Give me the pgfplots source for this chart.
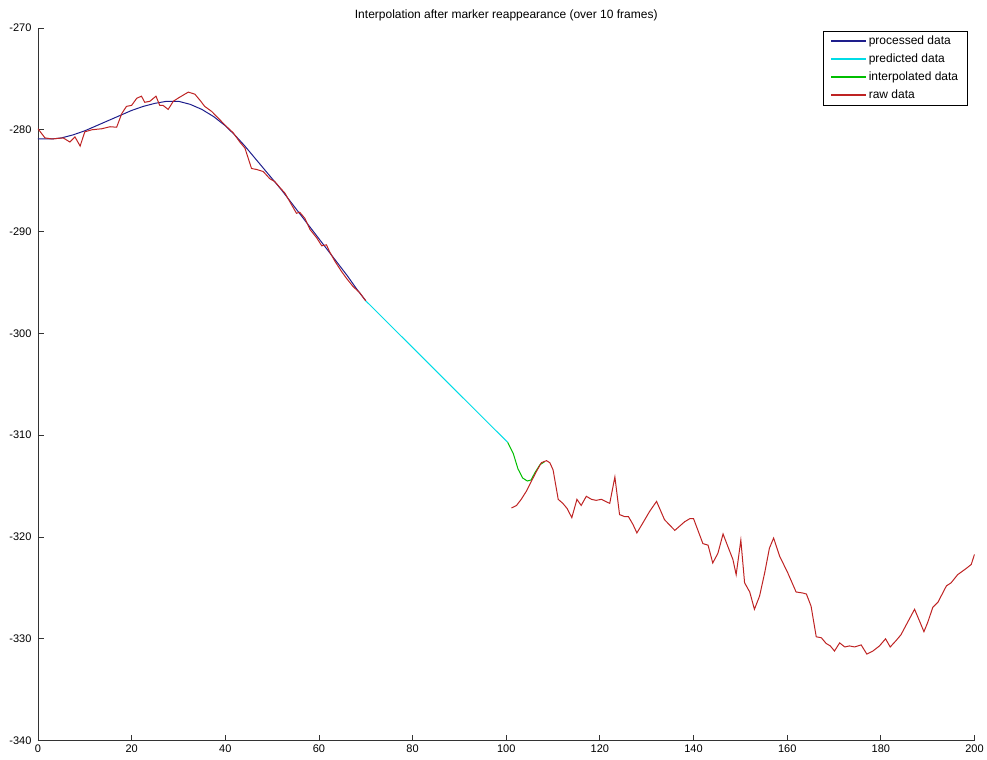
\documentclass[border=0pt]{standalone}
\usepackage{pgfplots}
\pgfplotsset{compat=1.18}
\usepackage{fontspec}
\setmainfont{Liberation Sans}
\definecolor{procblue}{RGB}{30,30,140}
\definecolor{predcyan}{RGB}{0,220,230}
\definecolor{intgreen}{RGB}{0,190,0}
\definecolor{rawred}{RGB}{190,35,35}
\begin{document}
\begin{tikzpicture}
\begin{axis}[
  name=ax,
  scale only axis,
  width=937pt, height=713pt,
  xmin=0, xmax=200, ymin=-340, ymax=-270,
  xtick={0,20,...,200},
  ytick={-340,-330,...,-270},
  axis x line*=bottom, axis y line*=left,
  tick align=inside,
  major tick length=6pt,
  axis line style={line width=0.8pt, black!80},
  tick style={line width=0.8pt, black!80},
  font=\fontsize{11}{13}\selectfont,
  /pgf/number format/assume math mode=true,
  ticklabel style={font=\fontsize{11}{13}\selectfont},
  xticklabel style={yshift=-0.5pt},
  yticklabel style={xshift=-3pt},
  title={Interpolation after marker reappearance (over 10 frames)},
  title style={at={(0.5,1)}, anchor=south, yshift=-3pt, font=\fontsize{12}{14}\selectfont},
  legend style={at={(0.9925,0.996)}, anchor=north east, draw=black, line width=0.6pt,
    font=\fontsize{12}{14}\selectfont, row sep=2.6pt, inner xsep=7pt,
    nodes={inner sep=2pt, text height=9pt, text depth=2.5pt}},
  legend cell align=left,
  legend image code/.code={\draw[#1, line width=1.5pt] (0pt,0pt) -- (35pt,0pt);},
  every axis plot/.append style={line width=1pt},
]
\coordinate (SW) at (rel axis cs:0,0);
\coordinate (NE) at (rel axis cs:1,1);
\addplot[procblue] coordinates {
(0,-280.9) (3,-280.9) (5,-280.8) (7.5,-280.5) (10,-280.1) (12.5,-279.6) (15,-279.1)
(17.5,-278.6) (20,-278.1) (22.5,-277.7) (25,-277.4) (27.5,-277.2) (30,-277.2)
(32.5,-277.5) (35,-278.0) (37.5,-278.7) (40,-279.6) (42,-280.5) (44,-281.5)
(46,-282.6) (48,-283.7) (50,-284.8) (52,-285.9) (54,-287.1) (56,-288.3)
(58,-289.5) (60,-290.7) (62,-291.9) (64,-293.1) (66,-294.3) (68,-295.6) (70,-296.8)
};
\addlegendentry{processed data}
\addplot[predcyan] coordinates {
(70,-296.8) (100.3,-310.7)
};
\addlegendentry{predicted data}
\addplot[intgreen] coordinates {
(100.3,-310.7) (101.5,-311.8) (102.5,-313.3) (103.5,-314.2) (104.5,-314.5) (105.3,-314.4)
(106.1,-313.7) (107.2,-312.9) (108.2,-312.6)
};
\addlegendentry{interpolated data}
\addplot[rawred] coordinates {
(0,-279.9) (1.5,-280.8) (3,-280.9) (5.4,-280.8) (6.8,-281.2) (7.9,-280.7) (9,-281.6)
(10,-280.2) (11.5,-280.0) (13.6,-279.9) (15.4,-279.7) (16.8,-279.75) (17.9,-278.4)
(18.9,-277.7) (20,-277.6) (21.1,-276.9) (22.1,-276.7) (22.8,-277.3) (23.9,-277.2)
(25.2,-276.7) (26.0,-277.6) (26.7,-277.6) (27.8,-278.0) (28.9,-277.2) (29.9,-276.9)
(31.0,-276.6) (32.1,-276.3) (33.5,-276.5) (34.6,-277.1) (35.6,-277.7) (37.1,-278.2)
(38.8,-279.0) (40.3,-279.7) (41.7,-280.3) (43.1,-281.2) (44.2,-281.8) (45.6,-283.8)
(46.7,-283.9) (48.1,-284.1) (49.5,-284.8) (50.6,-285.1) (51.7,-285.7) (52.7,-286.2)
(54.2,-287.4) (55.2,-288.2) (55.9,-288.1) (57.0,-288.7) (58.1,-289.8) (59.5,-290.6)
(60.6,-291.4) (61.6,-291.3) (62.3,-292.0) (63.4,-292.9) (64.8,-293.9) (65.9,-294.6)
(67.3,-295.4) (68.7,-296.0) (70.0,-296.8)
};
\addlegendentry{raw data}
\addplot[rawred, forget plot] coordinates {
(101.1,-317.15) (102.2,-316.9) (103.2,-316.3) (104.3,-315.5) (105.4,-314.5) (106.4,-313.6)
(107.5,-312.7) (108.6,-312.5) (109.3,-312.7) (110,-313.4) (111.1,-316.3) (112.1,-316.7)
(113,-317.2) (114,-318.1) (115.1,-316.3) (116,-316.9) (117.1,-316.0) (118.2,-316.3)
(119.2,-316.4) (120.3,-316.3) (121.2,-316.5) (122.1,-316.7) (123.2,-314.1) (124.2,-317.8)
(125.3,-318.0) (126.1,-318.0) (127.1,-318.8) (127.9,-319.6) (129.2,-318.6) (130.6,-317.5)
(132.1,-316.5) (133.8,-318.3) (136,-319.35) (138.1,-318.5) (139.2,-318.2) (140,-318.2)
(142,-320.65) (143.1,-320.8) (144.1,-322.55) (145.2,-321.6) (146.3,-319.7) (147.3,-320.9)
(148.4,-322.2) (149.1,-323.7) (150.1,-320.3) (150.9,-324.5) (152,-325.4) (153,-327.1)
(154.1,-325.8) (155.2,-323.5) (156.2,-321.1) (157.1,-320.1) (158.4,-321.9) (160.1,-323.5)
(161.9,-325.4) (163.3,-325.5) (164.1,-325.6) (165.1,-326.8) (166.2,-329.8) (167.3,-329.9)
(168.3,-330.45) (169.2,-330.7) (170.1,-331.2) (171.2,-330.4) (172.3,-330.8) (173.3,-330.7)
(174.4,-330.8) (175.8,-330.6) (177,-331.5) (178.3,-331.2) (179.7,-330.7) (181,-330.0)
(182,-330.8) (183.3,-330.15) (184.3,-329.6) (185.8,-328.3) (187.2,-327.1) (188.3,-328.3)
(189.2,-329.3) (190,-328.4) (191.1,-326.9) (192.2,-326.4) (194,-324.8) (195,-324.5)
(196.4,-323.7) (198.2,-323.1) (199.3,-322.7) (200,-321.7)
};
\end{axis}
\path ([shift={(-38pt,-19pt)}]SW) rectangle ([shift={(12pt,28pt)}]NE);
\end{tikzpicture}
\end{document}
